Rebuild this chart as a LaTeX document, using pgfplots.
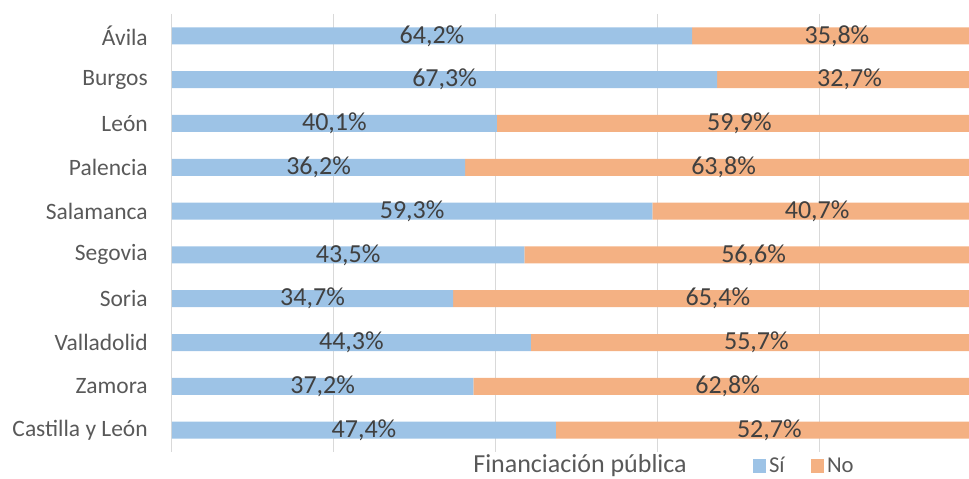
\documentclass[border=0pt]{standalone}
\usepackage{pgfplots}
\usepackage{pgfplotstable}
\pgfplotsset{compat=1.18}
\usepackage{fontspec}
\setmainfont{Carlito}

\definecolor{siblue}{RGB}{157,195,230}
\definecolor{noorange}{RGB}{244,177,131}
\definecolor{txtgray}{RGB}{89,89,89}
\definecolor{lblgray}{RGB}{64,64,64}
\definecolor{gridgray}{RGB}{217,217,217}

% porcentaje con / sin financiacion publica
\pgfplotstableread[col sep=comma]{
idx,prov,si,no
0,Ávila,64.2,35.8
1,Burgos,67.3,32.7
2,León,40.1,59.9
3,Palencia,36.2,63.8
4,Salamanca,59.3,40.7
5,Segovia,43.5,56.6
6,Soria,34.7,65.4
7,Valladolid,44.3,55.7
8,Zamora,37.2,62.8
9,Castilla y León,47.4,52.7
}\datos
% centro de cada tramo, para las etiquetas
\pgfplotstablecreatecol[create col/expr={\thisrow{si}/2}]{simid}\datos
\pgfplotstablecreatecol[create col/expr={\thisrow{si}+\thisrow{no}/2}]{nomid}\datos

\pgfplotsset{marco/.style={
    at={(0pt,0pt)}, anchor=south west,
    scale only axis,
    width=597.75pt, height=328.5pt,
    xmin=0, xmax=98.4,
    ymin=-0.5, ymax=9.5,
    y dir=reverse}}

\begin{document}
\begin{tikzpicture}
\begin{axis}[
    marco,
    xbar stacked,
    bar width=12.75pt,
    axis y line*=left,
    axis x line*=bottom,
    x axis line style={draw=none},
    y axis line style={gridgray, line width=0.75pt},
    xtick={20,40,60,80}, xticklabels={},
    xtick style={draw=none},
    xmajorgrids,
    grid style={gridgray, line width=0.75pt},
    ytick={0,...,9},
    yticklabels from table={\datos}{prov},
    minor ytick={-0.5,0.5,...,9.5},
    tick align=outside,
    major tick length=0pt,
    minor tick length=5.25pt,
    minor tick style={gridgray, line width=0.75pt},
    ytick style={draw=none},
    yticklabel style={font=\fontsize{17.6}{18}\selectfont, text=txtgray, inner sep=0pt, xshift=-18pt},
    legend columns=2,
    legend style={draw=none, fill=none, at={(0.794,-0.032)}, anchor=center,
        font=\fontsize{17}{18}\selectfont, text=txtgray,
        /tikz/every even column/.append style={column sep=18pt}},
    legend image code/.code={\fill[#1] (0pt,-4.9pt) rectangle (9.75pt,4.9pt);},
]
\addplot[fill=siblue, draw=none] table[x=si, y=idx] {\datos};
\addlegendentry{Sí}
\addplot[fill=noorange, draw=none] table[x=no, y=idx] {\datos};
\addlegendentry{No}
\end{axis}
\begin{axis}[
    marco,
    hide axis,
    clip=false,
    /pgf/number format/assume math mode=true,
    nodes near coords={\pgfmathprintnumber[fixed,precision=1,fixed zerofill,use comma]{\pgfplotspointmeta}\%},
    every node near coord/.append style={anchor=center, font=\fontsize{19.5}{20}\selectfont, text=lblgray},
]
\addplot[draw=none, point meta=explicit] table[x=simid, y=idx, meta=si] {\datos};
\addplot[draw=none, point meta=explicit] table[x=nomid, y=idx, meta=no] {\datos};
\node[anchor=center, font=\fontsize{19.5}{20}\selectfont, text=txtgray]
    at (axis description cs:0.512,-0.032) {Financiación pública};
\end{axis}
\pgfresetboundingbox
\path (-129pt,-19.5pt) rectangle (597.75pt,339pt);
\end{tikzpicture}
\end{document}
